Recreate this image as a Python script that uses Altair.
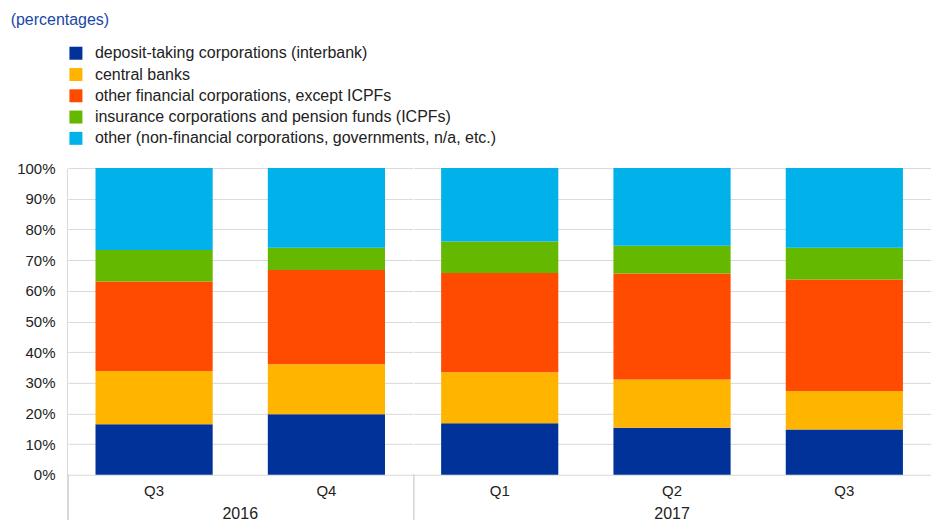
import altair as alt
import pandas as pd

quarters = ["Q3", "Q4", "Q1", "Q2", "Q3"]
years = ["2016", "2016", "2017", "2017", "2017"]
series = [
    "deposit-taking corporations (interbank)",
    "central banks",
    "other financial corporations, except ICPFs",
    "insurance corporations and pension funds (ICPFs)",
    "other (non-financial corporations, governments, n/a, etc.)",
]
colors = ["#003299", "#ffb400", "#ff4b00", "#65b800", "#00b1ea"]

deposit_taking = [16.5, 19.7, 16.8, 15.3, 14.8]
central_banks = [17.3, 16.3, 16.6, 15.8, 12.5]
other_financial = [29.2, 30.8, 32.4, 34.5, 36.4]
icpfs = [10.3, 7.2, 10.3, 9.1, 10.3]
other = [26.7, 26.0, 23.9, 25.3, 26.0]

values = [deposit_taking, central_banks, other_financial, icpfs, other]

rows = []
for s_i, (name, vals) in enumerate(zip(series, values)):
    for q_i, (q, y, v) in enumerate(zip(quarters, years, vals)):
        rows.append({"quarter": q, "year": y, "idx": q_i, "series": name,
                     "order": s_i, "value": v})
df = pd.DataFrame(rows)

FONT = "Liberation Sans"

bars = alt.Chart().mark_bar().encode(
    x=alt.X("quarter:N", sort=alt.EncodingSortField("idx"),
            scale=alt.Scale(paddingInner=0.32),
            axis=alt.Axis(title=None, domain=False, ticks=False, labelAngle=0,
                          labelFontSize=15, labelPadding=9, labelColor="#222222",
                          labelFont=FONT)),
    y=alt.Y("value:Q", stack="zero",
            scale=alt.Scale(domain=[0, 100], nice=False),
            axis=alt.Axis(title=None, values=list(range(0, 101, 10)),
                          labelExpr="datum.value + '%'", labelFontSize=15,
                          labelFont=FONT, labelColor="#222222",
                          ticks=False, labelPadding=12, domainColor="#d9d9d9",
                          gridColor="#d9d9d9")),
    color=alt.Color("series:N", scale=alt.Scale(domain=series, range=colors),
                    legend=alt.Legend(title=None, orient="none", legendX=0, legendY=-123,
                                      symbolType="square", symbolSize=169,
                                      symbolStrokeWidth=0, labelFontSize=16,
                                      labelFont=FONT, labelColor="#222222",
                                      rowPadding=5.3, labelOffset=11, labelLimit=600)),
    order=alt.Order("order:Q"),
)

seps = alt.Chart().mark_rule(color="#d9d9d9", strokeWidth=1).encode(
    x=alt.value(0), y=alt.value(307), y2=alt.value(352)
)

chart = alt.layer(bars, seps, data=df).properties(
    width=alt.Step(172.5), height=307
).facet(
    column=alt.Column("year:N", header=alt.Header(title=None, labelOrient="bottom",
                                                  labelFontSize=16, labelPadding=-15,
                                                  labelFont=FONT,
                                                  labelColor="#222222")),
    spacing=0,
).resolve_scale(x="independent").properties(
    title=alt.TitleParams("(percentages)", anchor="start", color="#1a47a8",
                          fontSize=16, fontWeight="normal", font=FONT,
                          dx=-6, offset=17),
    padding={"left": 2, "top": 4, "right": 0, "bottom": 0},
).configure_view(stroke=None)

chart.save("out.html", embed_options={"renderer": "svg", "actions": False})
